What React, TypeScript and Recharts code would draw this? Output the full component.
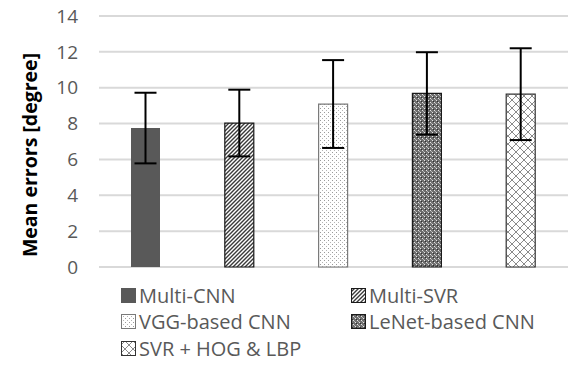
import { BarChart, Bar, Cell, XAxis, YAxis, CartesianGrid, ErrorBar } from 'recharts'

const categories = ['Multi-CNN', 'Multi-SVR', 'VGG-based CNN', 'LeNet-based CNN', 'SVR + HOG & LBP']
const meanErrors = [7.75, 8.03, 9.09, 9.68, 9.64]
const stdDevs = [1.97, 1.86, 2.45, 2.3, 2.56]
const yTicks = [0, 2, 4, 6, 8, 10, 12, 14]

const fills = ['#595959', 'url(#hatchUp)', 'url(#dots10)', 'url(#checkDense)', 'url(#diamond)']
const strokes = ['none', '#1a1a1a', '#7a7a7a', '#1a1a1a', '#333333']

const data = categories.map((name, i) => ({ name, v: meanErrors[i], err: stdDevs[i] }))

const FONT = '"Open Sans", sans-serif'

function Patterns() {
  return (
    <defs>
      <pattern id="hatchUp" width="4" height="4" patternUnits="userSpaceOnUse">
        <rect width="4" height="4" fill="#fff" />
        <path d="M-1,1 l2,-2 M0,4 l4,-4 M3,5 l2,-2" stroke="#3a3a3a" strokeWidth="1.4" />
      </pattern>
      <pattern id="dots10" width="4" height="4" patternUnits="userSpaceOnUse">
        <rect width="4" height="4" fill="#fff" />
        <rect x="0" y="0" width="1" height="1" fill="#9a9a9a" />
        <rect x="2" y="2" width="1" height="1" fill="#b5b5b5" />
      </pattern>
      <pattern id="checkDense" width="4" height="4" patternUnits="userSpaceOnUse">
        <rect width="4" height="4" fill="#6e6e6e" />
        <rect x="0" y="0" width="1" height="1" fill="#e6e6e6" />
        <rect x="2" y="2" width="1" height="1" fill="#e6e6e6" />
        <rect x="1" y="1" width="1" height="1" fill="#2e2e2e" />
        <rect x="3" y="3" width="1" height="1" fill="#b0b0b0" />
      </pattern>
      <pattern id="diamond" width="8" height="8" patternUnits="userSpaceOnUse">
        <rect width="8" height="8" fill="#fff" />
        <path d="M0,4 L4,0 L8,4 L4,8 Z" fill="none" stroke="#8a8a8a" strokeWidth="1" />
      </pattern>
    </defs>
  )
}

// legend drawn beside the chart so it doesn't eat into the plot area
function LegendBox() {
  const rows = [[0, 1], [2, 3], [4]]
  return (
    <div
      style={{
        position: 'absolute',
        top: 282,
        left: 121,
        fontFamily: FONT,
        fontSize: 20,
        color: '#595959',
      }}
    >
      {rows.map((row, r) => (
        <div key={r} style={{ display: 'flex', height: 26.5, alignItems: 'center' }}>
          {row.map((idx) => (
            <div key={idx} style={{ display: 'flex', alignItems: 'center', width: 230 }}>
              <svg width={15} height={15} style={{ marginRight: 3 }}>
                <rect
                  x={0.5}
                  y={0.5}
                  width={14}
                  height={14}
                  fill={fills[idx]}
                  stroke={strokes[idx] === 'none' ? '#595959' : strokes[idx]}
                  strokeWidth={1}
                />
              </svg>
              <span style={{ whiteSpace: 'nowrap' }}>{categories[idx]}</span>
            </div>
          ))}
        </div>
      ))}
    </div>
  )
}

export default function App() {
  return (
    <div style={{ position: 'absolute', left: 0, top: 0, width: 568, height: 365, background: '#fff' }}>
      <BarChart width={568} height={365} data={data} margin={{ top: 16, right: 0, left: 0, bottom: 98 }}>
        <Patterns />
        <CartesianGrid vertical={false} stroke="#d9d9d9" strokeWidth={2} />
        <XAxis dataKey="name" hide />
        <YAxis
          width={99}
          domain={[0, 14]}
          ticks={yTicks}
          axisLine={false}
          tickLine={false}
          tickSize={0}
          tickMargin={21}
          tick={{ fill: '#595959', fontSize: 19, fontFamily: FONT }}
          label={() => (
            <text
              x={29}
              y={155}
              transform="rotate(-90 29 155)"
              textAnchor="middle"
              dominantBaseline="central"
              fontFamily={FONT}
              fontWeight={700}
              fontSize={19.5}
              fill="#000"
            >
              Mean errors [degree]
            </text>
          )}
        />
        <Bar dataKey="v" barSize={29} isAnimationActive={false}>
          {data.map((d, i) => (
            <Cell key={d.name} fill={fills[i]} stroke={strokes[i]} strokeWidth={1.2} />
          ))}
          <ErrorBar dataKey="err" width={11} stroke="#000" strokeWidth={2} />
        </Bar>
      </BarChart>
      <LegendBox />
    </div>
  )
}
